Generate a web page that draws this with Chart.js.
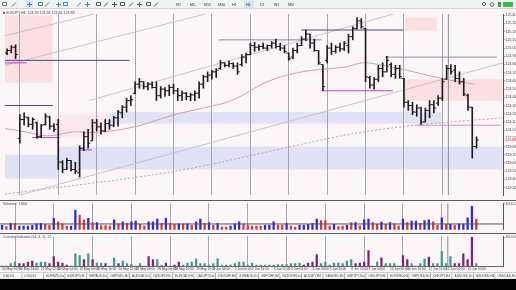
<!DOCTYPE html>
<html>
<head>
<meta charset="utf-8">
<title>EURJPY,H4</title>
<script src="https://cdn.jsdelivr.net/npm/chart.js@4.4.1/dist/chart.umd.min.js"></script>
<style>
  html, body { margin: 0; padding: 0; background: #000; }
  #screen { position: relative; width: 516px; height: 290px; overflow: hidden; background: #000; }
  #screen canvas { position: absolute; left: 0; display: block; }
  #toolbar { top: 0; }
  #mainChart { top: 9px; }
  #volChart { top: 200px; }
  #indChart { top: 233px; }
  #tabs { top: 272px; }
</style>
</head>
<body>
<div id="screen">
  <canvas id="toolbar" width="516" height="9"></canvas>
  <canvas id="mainChart" width="516" height="191"></canvas>
  <canvas id="volChart" width="516" height="33"></canvas>
  <canvas id="indChart" width="516" height="39"></canvas>
  <canvas id="tabs" width="516" height="7"></canvas>
</div>
<script>
// =========================================================
// DATA - H4 bars, first bar is index -3
// =========================================================
const FIRST_BAR = -3;

const opens = [
  124.94, 124.97, 125.01, 123.90, 124.13, 124.15, 124.07, 124.09, 123.92, 124.07,
  124.16, 124.05, 124.07, 123.61, 123.52, 123.63, 123.52, 123.48, 123.78, 123.92,
  123.87, 124.09, 124.04, 123.99, 124.08, 124.06, 124.15, 124.21, 124.28, 124.36,
  124.45, 124.56, 124.59, 124.53, 124.56, 124.52, 124.42, 124.50, 124.48, 124.52,
  124.48, 124.42, 124.45, 124.41, 124.43, 124.45, 124.56, 124.65, 124.67, 124.71,
  124.75, 124.82, 124.79, 124.81, 124.78, 124.80, 124.89, 124.92, 125.03, 125.01,
  125.02, 125.00, 125.03, 125.06, 125.02, 125.00, 124.94, 124.89, 124.97, 125.03,
  125.11, 125.17, 125.06, 124.97, 124.80, 124.85, 125.00, 124.96, 125.01, 124.99,
  125.03, 125.14, 125.24, 125.33, 125.24, 124.64, 124.55, 124.62, 124.75, 124.71,
  124.80, 124.68, 124.75, 124.63, 124.34, 124.30, 124.22, 124.27, 124.10, 124.24,
  124.31, 124.33, 124.39, 124.62, 124.75, 124.73, 124.63, 124.59, 124.42, 124.28, 123.80
];
const highs = [
  124.99, 125.03, 125.04, 124.19, 124.21, 124.16, 124.15, 124.10, 124.07, 124.20,
  124.17, 124.08, 124.13, 123.63, 123.66, 123.63, 123.61, 123.81, 123.98, 124.01,
  124.13, 124.13, 124.09, 124.13, 124.13, 124.17, 124.24, 124.30, 124.39, 124.42,
  124.59, 124.63, 124.59, 124.58, 124.59, 124.59, 124.53, 124.52, 124.55, 124.56,
  124.51, 124.48, 124.46, 124.45, 124.48, 124.59, 124.67, 124.71, 124.73, 124.75,
  124.85, 124.82, 124.84, 124.82, 124.82, 124.92, 124.94, 125.06, 125.07, 125.04,
  125.06, 125.04, 125.08, 125.11, 125.06, 125.03, 124.94, 125.00, 125.06, 125.14,
  125.22, 125.17, 125.11, 124.97, 124.80, 125.03, 125.06, 125.03, 125.06, 125.08,
  125.17, 125.26, 125.37, 125.36, 125.24, 124.66, 124.64, 124.79, 124.82, 124.90,
  124.82, 124.79, 124.79, 124.63, 124.36, 124.34, 124.31, 124.28, 124.27, 124.36,
  124.36, 124.42, 124.63, 124.79, 124.80, 124.79, 124.71, 124.63, 124.44, 124.28, 123.92
];
const lows = [
  124.92, 124.94, 124.87, 123.84, 124.06, 124.04, 124.01, 123.90, 123.91, 124.06,
  124.01, 123.98, 123.52, 123.48, 123.52, 123.50, 123.47, 123.43, 123.75, 123.78,
  123.87, 123.99, 123.95, 123.98, 124.01, 124.04, 124.05, 124.15, 124.22, 124.30,
  124.44, 124.51, 124.50, 124.49, 124.51, 124.36, 124.39, 124.41, 124.42, 124.44,
  124.36, 124.36, 124.37, 124.36, 124.36, 124.39, 124.51, 124.59, 124.62, 124.64,
  124.74, 124.77, 124.77, 124.75, 124.68, 124.78, 124.82, 124.92, 124.96, 124.97,
  124.99, 124.97, 125.00, 125.00, 124.97, 124.94, 124.85, 124.87, 124.94, 125.03,
  125.09, 125.00, 124.96, 124.80, 124.48, 124.82, 124.92, 124.94, 124.96, 124.97,
  124.94, 125.10, 125.23, 125.24, 124.59, 124.51, 124.50, 124.59, 124.65, 124.71,
  124.65, 124.63, 124.63, 124.28, 124.24, 124.19, 124.17, 124.07, 124.10, 124.15,
  124.21, 124.30, 124.36, 124.62, 124.68, 124.59, 124.56, 124.42, 124.24, 123.66, 123.78
];
const closes = [
  124.97, 125.01, 124.92, 124.13, 124.16, 124.07, 124.13, 123.92, 124.06, 124.17,
  124.05, 124.01, 123.61, 123.52, 123.63, 123.52, 123.50, 123.78, 123.92, 123.84,
  124.09, 124.04, 123.99, 124.08, 124.06, 124.15, 124.22, 124.28, 124.36, 124.37,
  124.56, 124.59, 124.53, 124.56, 124.52, 124.42, 124.50, 124.48, 124.52, 124.48,
  124.42, 124.45, 124.41, 124.43, 124.45, 124.56, 124.65, 124.67, 124.71, 124.73,
  124.82, 124.79, 124.81, 124.78, 124.71, 124.89, 124.92, 125.03, 125.01, 125.02,
  125.00, 125.03, 125.06, 125.02, 125.00, 124.96, 124.87, 124.97, 125.03, 125.11,
  125.17, 125.06, 124.97, 124.82, 124.53, 125.00, 124.96, 125.01, 124.99, 125.06,
  125.14, 125.24, 125.33, 125.26, 124.65, 124.55, 124.62, 124.75, 124.71, 124.85,
  124.68, 124.75, 124.65, 124.34, 124.30, 124.22, 124.27, 124.10, 124.24, 124.31,
  124.27, 124.39, 124.59, 124.75, 124.71, 124.63, 124.59, 124.44, 124.28, 123.80, 123.88
];

// tick volume, 1 = blue bar, 0 = red bar
const volumes = [
  710, 500, 1000, 1000, 590, 590, 590, 710, 910, 1000,
  840, 710, 1750, 1250, 910, 590, 590, 3000, 2250, 1540,
  1750, 1130, 1130, 660, 660, 590, 1540, 910, 1250, 1000,
  1250, 1340, 840, 590, 1250, 1250, 1660, 1000, 1750, 1000,
  840, 910, 910, 910, 710, 1250, 1660, 1000, 1130, 710,
  1000, 410, 410, 590, 910, 1250, 910, 710, 590, 590,
  590, 710, 710, 1250, 710, 710, 1000, 590, 410, 710,
  710, 840, 1000, 1660, 1410, 1410, 590, 840, 500, 590,
  710, 1130, 1130, 630, 1540, 1660, 1130, 840, 1210, 840,
  1130, 910, 590, 1660, 1130, 1340, 1340, 1000, 1410, 1540,
  1250, 710, 1840, 840, 840, 710, 910, 910, 1840, 3630, 1660
];
const volumeUp = [
  1,0,1,0,1,1,1,1,1,1,  0,0,1,0,0,0,1,1,0,0,  1,0,1,0,0,0,1,0,1,0,
  1,1,0,0,1,1,1,0,1,0,  0,1,0,1,0,1,1,0,1,0,  1,0,0,1,1,1,0,0,0,0,
  0,1,1,1,0,0,1,0,0,1,  1,1,1,1,0,0,0,1,0,0,  1,0,1,0,1,1,0,0,1,0,
  1,0,0,1,0,1,1,0,1,1,  0,0,1,0,1,0,1,1,1,1,0
];
const volumeLevel = 900;
const volumeTicks = [4000];

// lower histogram, 1 = teal, 0 = purple
const indicatorValues = [
  0, 0, 27, 43, 27, 27, 43, 53, 33, 43,
  43, 27, 100, 43, 33, 10, 0, 127, 110, 67,
  127, 67, 33, 33, 27, 0, 83, 27, 53, 27,
  20, 0, 27, 0, 100, 67, 67, 10, 33, 0,
  10, 43, 10, 33, 43, 77, 27, 27, 10, 27,
  77, 10, 10, 10, 27, 43, 43, 10, 33, 10,
  10, 10, 10, 10, 17, 17, 17, 27, 27, 33,
  10, 33, 43, 120, 27, 43, 10, 33, 33, 27,
  53, 67, 27, 33, 43, 160, 0, 43, 87, 27,
  27, 27, 0, 110, 67, 27, 0, 27, 77, 93,
  27, 27, 153, 27, 100, 27, 27, 127, 67, 300, 27
];
const indicatorUp = [
  1,1,1,1,0,0,0,0,1,1,  1,0,0,0,0,0,1,1,1,0,  1,0,1,1,0,1,1,0,1,1,
  1,1,1,1,0,0,1,1,0,1,  0,0,1,1,1,1,1,1,1,1,  1,1,1,1,1,1,1,1,1,1,
  1,1,1,1,1,1,1,1,1,1,  0,0,0,0,1,1,1,1,1,1,  1,1,0,0,0,0,1,1,0,1,
  1,1,1,0,0,1,1,1,1,0,  1,1,1,1,1,0,0,0,0,0,1
];
const indicatorTicks = [300];

// axes
const X_MIN = -3.48, X_MAX = 113.2;
const PRICE_MIN = 123.21, PRICE_MAX = 125.415;
const priceTicks = [
  123.30, 123.40, 123.50, 123.60, 123.70, 123.80, 123.90, 124.00, 124.10, 124.20, 124.30,
  124.40, 124.50, 124.60, 124.70, 124.80, 124.90, 125.00, 125.10, 125.20, 125.30, 125.40
];
const gridBars = [0, 9, 18, 27, 36, 45, 54, 63, 72, 81, 90, 99];
const dateTickBars = [-3, 1, 6, 10, 15, 19, 24, 28, 33, 37, 42, 46, 51, 55, 60, 64, 69, 73, 78, 82, 87, 91, 96, 100, 105];
const dateLabels = [
  '20 May 2020', '20 May 16:00', '21 May 12:00', '22 May 04:00', '25 May 00:00', '25 May 16:00',
  '26 May 12:00', '27 May 04:00', '28 May 00:00', '28 May 16:00', '29 May 12:00', '1 Jun 04:00',
  '2 Jun 00:00', '2 Jun 16:00', '3 Jun 12:00', '4 Jun 04:00', '5 Jun 00:00', '5 Jun 16:00',
  '8 Jun 12:00', '9 Jun 04:00', '10 Jun 00:00', '10 Jun 16:00', '11 Jun 12:00', '12 Jun 04:00', '15 Jun 00:00'
];

// drawn objects: supply / demand zones (bar index range, price range)
const zoneStart = [-3.5, 8.1, -3.5, 8.8, 20.9, 90.2, 90.2];
const zoneEnd   = [7.7, 20.9, 8.8, 113.3, 98.8, 97.7, 113.3];
const zoneHigh  = [125.40, 124.19, 123.70, 123.80, 124.22, 125.37, 124.62];
const zoneLow   = [124.58, 123.92, 123.41, 123.52, 124.08, 125.21, 124.36];
const zoneKind  = ['supply', 'supplyPale', 'demand', 'demand', 'demand', 'supply', 'supply'];

// horizontal levels
const levelFrom  = [-3.5, -3.5, 46.6, 65.9, 85.6, -3.5, 2.8, 13.9, 70.7, 93.0];
const levelTo    = [25.7, 1.6, 70.7, 89.8, 111.8, 7.7, 9.3, 16.9, 87.4, 112.7];
const levelPrice = [124.85, 124.82, 125.10, 125.22, 124.89, 124.30, 123.91, 123.76, 124.48, 124.06];
const levelKind  = ['dark', 'magenta', 'grey', 'dark', 'grey', 'dark', 'magenta', 'magenta', 'magenta', 'pink'];

// trend lines [bar, price] -> [bar, price]
const trendFromBar   = [-3.5, -3.5, 16.2, 0];
const trendFromPrice = [125.15, 124.79, 124.36, 123.21];
const trendToBar     = [17.4, 43.4, 90.5, 113.2];
const trendToPrice   = [125.415, 125.415, 125.46, 124.82];

// moving averages
const maFastBars   = [-3.5, 1.2, 6.5, 12.8, 17.4, 26.7, 36.4, 42.9, 49.6, 58, 66.1, 76.3, 80.3, 84, 89.8, 98.8, 106.5];
const maFastPrices = [124.02, 123.98, 123.93, 123.98, 123.97, 124.04, 124.19, 124.27, 124.36, 124.59, 124.71, 124.77, 124.82, 124.80, 124.74, 124.63, 124.56];
const maSlowBars   = [-3.5, 36.4, 76.3, 92.6, 113.2];
const maSlowPrices = [123.22, 123.50, 123.94, 124.06, 124.15];

const markerBar = 100.4;   // vertical line object

// =========================================================
// STYLE
// =========================================================
const CHART_BG = '#fdf6f8';
const GRID_COLOR = '#a4a5b0';
const BAR_COLOR = '#1e1e22';
const ZONE_COLORS = { supply: '#fbdfe1', supplyPale: '#fae8ec', demand: '#e2e2f6' };
const LEVEL_COLORS = { dark: '#4a4a78', grey: '#8a8aa8', magenta: '#c23ccf', pink: '#d88ad8' };
const FONT = 'Liberation Sans';

Chart.defaults.font.family = FONT;
Chart.defaults.font.size = 4;
Chart.defaults.color = '#222';

function barX(k) { return FIRST_BAR + k; }

// ---- shared x scale (grid every 9 bars) ----
function gridXScale() {
  return {
    type: 'linear', min: X_MIN, max: X_MAX, offset: false,
    afterBuildTicks: s => { s.ticks = gridBars.map(v => ({ value: v })); },
    grid: { color: GRID_COLOR, lineWidth: 1, drawTicks: false, offset: false },
    border: { display: false },
    ticks: { display: false }
  };
}

function rightYScale(min, max, ticks, fmt) {
  return {
    position: 'right', min: min, max: max,
    afterBuildTicks: s => { s.ticks = ticks.map(v => ({ value: v })); },
    afterFit: s => { s.width = 13; },
    grid: { drawOnChartArea: false, tickLength: 1.5, color: '#555' },
    border: { display: true, color: '#555' },
    ticks: { padding: 1, font: { size: 3.6 }, color: '#444', callback: fmt }
  };
}

// background + zones under the grid
const backdropPlugin = {
  id: 'backdrop',
  beforeDraw(chart) {
    const { ctx, chartArea, scales } = chart;
    ctx.save();
    ctx.fillStyle = CHART_BG;
    ctx.fillRect(0, 0, chart.width, chart.height);
    if (chart.canvas.id === 'mainChart') {
      ctx.beginPath();
      ctx.rect(chartArea.left, chartArea.top, chartArea.right - chartArea.left, chartArea.bottom - chartArea.top);
      ctx.clip();
      zoneStart.forEach((x0, k) => {
        const px0 = scales.x.getPixelForValue(x0);
        const px1 = scales.x.getPixelForValue(zoneEnd[k]);
        const py0 = scales.y.getPixelForValue(zoneHigh[k]);
        const py1 = scales.y.getPixelForValue(zoneLow[k]);
        ctx.fillStyle = ZONE_COLORS[zoneKind[k]];
        ctx.fillRect(px0, py0, px1 - px0, py1 - py0);
      });
    }
    ctx.restore();
  }
};

// caption text in the top-left corner + separator
function captionPlugin(text, separator) {
  return {
    id: 'caption',
    afterDraw(chart) {
      const ctx = chart.ctx;
      ctx.save();
      if (separator) {
        ctx.fillStyle = '#5c5c64';
        ctx.fillRect(0, 0, chart.width, 1);
      }
      ctx.font = '3.6px ' + FONT;
      ctx.fillStyle = '#444';
      ctx.textBaseline = 'top';
      ctx.fillText(text, 3, 2);
      ctx.restore();
    }
  };
}

// =========================================================
// MAIN PRICE CHART
// =========================================================
const hlData = highs.map((h, k) => ({ x: barX(k), y: [lows[k], h] }));
const openData = opens.map((o, k) => ({ x: barX(k) - 0.27, y: o }));
const closeData = closes.map((c, k) => ({ x: barX(k) + 0.27, y: c }));

const lineSets = [];
levelPrice.forEach((p, k) => {
  lineSets.push({
    type: 'line', data: [{ x: levelFrom[k], y: p }, { x: levelTo[k], y: p }],
    borderColor: LEVEL_COLORS[levelKind[k]], borderWidth: 1, pointRadius: 0
  });
});
trendFromBar.forEach((b, k) => {
  lineSets.push({
    type: 'line', data: [{ x: b, y: trendFromPrice[k] }, { x: trendToBar[k], y: trendToPrice[k] }],
    borderColor: '#c3c3cf', borderWidth: 1, pointRadius: 0
  });
});
lineSets.push({
  type: 'line', data: maFastBars.map((b, k) => ({ x: b, y: maFastPrices[k] })),
  borderColor: '#d2a0a6', borderWidth: 1, pointRadius: 0, tension: 0.4
});
lineSets.push({
  type: 'line', data: maSlowBars.map((b, k) => ({ x: b, y: maSlowPrices[k] })),
  borderColor: '#b7a2a8', borderWidth: 1, borderDash: [2, 2], pointRadius: 0, tension: 0.3
});
lineSets.push({
  type: 'line', data: [{ x: markerBar, y: PRICE_MIN }, { x: markerBar, y: PRICE_MAX }],
  borderColor: '#8a8a94', borderWidth: 1, pointRadius: 0
});

const priceLabelPlugin = {
  id: 'priceLabel',
  afterDraw(chart) {
    const { ctx, chartArea, scales } = chart;
    const last = closes[closes.length - 1];
    const py = scales.y.getPixelForValue(last);
    ctx.save();
    ctx.fillStyle = CHART_BG;
    ctx.fillRect(chartArea.right + 1, py - 2.5, 12, 5);
    ctx.font = '3.6px ' + FONT;
    ctx.fillStyle = '#e0202a';
    ctx.textBaseline = 'middle';
    ctx.fillText(last.toFixed(2), chartArea.right + 2, py);
    ctx.restore();
  }
};

new Chart(document.getElementById('mainChart'), {
  type: 'bar',
  data: {
    datasets: [
      { type: 'line', data: openData, showLine: false, pointStyle: 'line', pointRadius: 1.1,
        pointBorderWidth: 1, pointBorderColor: BAR_COLOR },
      { type: 'line', data: closeData, showLine: false, pointStyle: 'line', pointRadius: 1.1,
        pointBorderWidth: 1, pointBorderColor: BAR_COLOR },
      { type: 'bar', data: hlData, backgroundColor: BAR_COLOR, barThickness: 1, grouped: false }
    ].concat(lineSets)
  },
  options: {
    responsive: false, animation: false, events: [],
    layout: { padding: 0 },
    plugins: { legend: { display: false }, tooltip: { enabled: false } },
    scales: {
      x: gridXScale(),
      y: rightYScale(PRICE_MIN, PRICE_MAX, priceTicks, v => v.toFixed(2))
    }
  },
  plugins: [backdropPlugin, priceLabelPlugin, captionPlugin('\u25A0 EURJPY,H4  124.28 124.28 123.66 123.88', false)]
});

// =========================================================
// VOLUME PANEL
// =========================================================
new Chart(document.getElementById('volChart'), {
  type: 'bar',
  data: {
    datasets: [
      { type: 'line', data: [{ x: X_MIN, y: volumeLevel }, { x: X_MAX, y: volumeLevel }],
        borderColor: '#55555c', borderWidth: 1, pointRadius: 0 },
      { type: 'bar', data: volumes.map((v, k) => ({ x: barX(k), y: v })), barThickness: 1.6, grouped: false,
        backgroundColor: volumes.map((v, k) => volumeUp[k] ? '#2a2ad0' : '#d7353a') },
      { type: 'line', data: [{ x: markerBar, y: 0 }, { x: markerBar, y: 4100 }],
        borderColor: '#8a8a94', borderWidth: 1, pointRadius: 0 }
    ]
  },
  options: {
    responsive: false, animation: false, events: [],
    layout: { padding: { top: 1 } },
    plugins: { legend: { display: false }, tooltip: { enabled: false } },
    scales: {
      x: gridXScale(),
      y: rightYScale(0, 4100, volumeTicks, v => v.toFixed(2))
    }
  },
  plugins: [backdropPlugin, captionPlugin('Volumes  ' + volumes[volumes.length - 1], true)]
});

// =========================================================
// LOWER HISTOGRAM + DATE AXIS
// =========================================================
const dateScale = {
  type: 'linear', min: X_MIN, max: X_MAX, position: 'bottom', offset: false,
  afterBuildTicks: s => { s.ticks = dateTickBars.map(v => ({ value: v })); },
  grid: { display: false, drawTicks: false },
  border: { display: true, color: '#666' },
  ticks: {
    align: 'start', padding: 1, maxRotation: 0, autoSkip: false, font: { size: 3.2 }, color: '#333',
    callback: (v, idx) => dateLabels[idx]
  }
};

new Chart(document.getElementById('indChart'), {
  type: 'bar',
  data: {
    datasets: [
      { type: 'bar', data: indicatorValues.map((v, k) => ({ x: barX(k), y: v })), barThickness: 1.6, grouped: false,
        backgroundColor: indicatorValues.map((v, k) => indicatorUp[k] ? '#3b9c8f' : '#7b2475') },
      { type: 'line', data: [{ x: markerBar, y: 0 }, { x: markerBar, y: 310 }],
        borderColor: '#8a8a94', borderWidth: 1, pointRadius: 0 }
    ]
  },
  options: {
    responsive: false, animation: false, events: [],
    layout: { padding: { top: 1 } },
    plugins: { legend: { display: false }, tooltip: { enabled: false } },
    scales: {
      x: gridXScale(),
      xDates: dateScale,
      y: rightYScale(0, 310, indicatorTicks, v => v.toFixed(2))
    }
  },
  plugins: [backdropPlugin, captionPlugin('Custom Indicator (14, 3, 1)  ' + indicatorValues[indicatorValues.length - 1], true)]
});

// =========================================================
// TOOLBAR AND SYMBOL TABS (window chrome)
// =========================================================
function drawToolbar() {
  const c = document.getElementById('toolbar').getContext('2d');
  c.fillStyle = '#f1f2f4'; c.fillRect(0, 0, 516, 9);
  c.fillStyle = '#d3d5da'; c.fillRect(0, 8, 516, 1);
  const icons = [
    [2, '#6b7079'], [12, '#6b7079'], [27, '#3a7fd0'], [38, '#2f935d'], [45, '#2f935d'],
    [56, '#2d9f6d'], [63, '#3a7fd0'], [77, '#3a7fd0'], [85, '#3a7fd0'], [96, '#555a61'],
    [104, '#555a61'], [112, '#555a61'], [120, '#555a61'], [129, '#555a61'], [137, '#555a61'],
    [146, '#555a61'], [154, '#555a61']
  ];
  c.fillStyle = '#cfe3f8'; c.fillRect(26, 1, 7, 6);
  icons.forEach(([x, col], k) => {
    c.strokeStyle = col; c.lineWidth = 1;
    c.beginPath();
    if (k % 3 === 0) { c.rect(x + 0.5, 2.5, 4, 3); }
    else if (k % 3 === 1) { c.moveTo(x, 6.5); c.lineTo(x + 4, 2.5); }
    else { c.moveTo(x + 2.5, 2); c.lineTo(x + 2.5, 7); c.moveTo(x, 4.5); c.lineTo(x + 5, 4.5); }
    c.stroke();
  });
  const frames = ['M1', 'M5', 'M15', 'M30', 'H1', 'H4', 'D1', 'W1', 'MN'];
  c.font = '3.6px ' + FONT; c.textBaseline = 'middle';
  frames.forEach((f, k) => {
    const x = 176 + k * 14;
    if (f === 'H4') { c.fillStyle = '#cde3f7'; c.fillRect(x - 2, 1, 10, 7); }
    c.fillStyle = '#333'; c.fillText(f, x, 4.6);
  });
  c.strokeStyle = '#666'; c.beginPath(); c.arc(484, 4, 1.6, 0, 7); c.stroke();
  c.beginPath(); c.arc(492, 4.5, 1.8, 0, 7); c.stroke();
  c.fillStyle = '#2da64a'; c.fillRect(498, 2, 3, 5);
  c.fillStyle = '#32c04a'; c.fillRect(503, 2, 10, 5);
}

function drawTabs() {
  const c = document.getElementById('tabs').getContext('2d');
  c.fillStyle = '#ebedf0'; c.fillRect(0, 0, 516, 7);
  c.fillStyle = '#c9ccd2'; c.fillRect(0, 0, 516, 1);
  const tabs = ['0.80101', '0.80214', 'EURNZD,Daily', 'EURJPY,H4', 'GBPAUD,Daily', 'GBPNZD,H4', 'AUDCAD,Daily',
    'NZDJPY,H4', 'EURCAD,H4', 'CADJPY,Daily', 'USDCHF,H4', 'EURAUD,Daily', 'GBPCHF,H4', 'NZDCHF,Daily',
    'AUDJPY,H4', 'XAUUSD,H4', 'GBPJPY,Daily', 'USDJPY,H4', 'EURUSD,H4', 'GBPUSD,H4', 'CHFJPY,H4',
    'AUDUSD,Daily', 'NZDUSD,H4', 'USDCAD,H4'];
  c.font = '3.2px ' + FONT; c.textBaseline = 'middle';
  const w = 21.5;
  tabs.forEach((t, k) => {
    const x = 1 + k * w;
    c.fillStyle = '#f7f8fa'; c.fillRect(x, 1, w - 1, 5);
    c.fillStyle = '#aeb2b8'; c.fillRect(x + w - 1, 1, 1, 6);
    c.save();
    c.beginPath(); c.rect(x, 0, w - 1.5, 7); c.clip();
    c.fillStyle = '#444'; c.fillText(t, x + 2, 3.8);
    c.restore();
  });
}

drawToolbar();
drawTabs();
</script>
</body>
</html>
